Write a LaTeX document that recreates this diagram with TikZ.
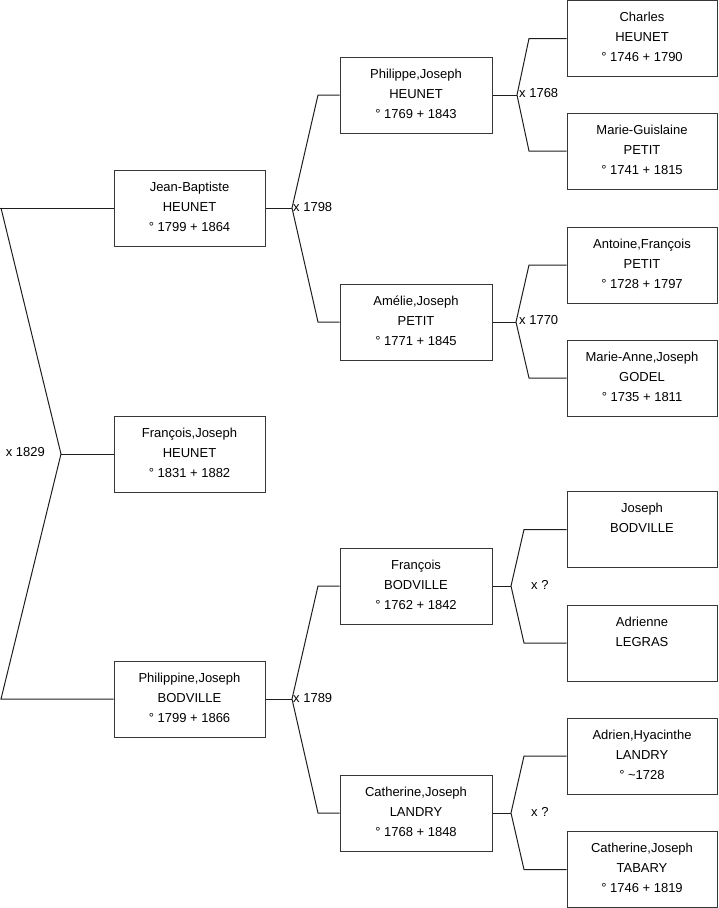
\documentclass[tikz,border=0pt]{standalone}
\usepackage{fontspec}
\setmainfont{Liberation Sans}
\definecolor{edge}{RGB}{30,30,30}
\definecolor{boxline}{RGB}{55,55,55}
\newcommand{\pbox}[1]{\parbox[c][62pt][t]{146pt}{\centering\strut #1}}
\begin{document}
\begin{tikzpicture}[x=1pt,y=-1pt,
  person/.style={draw=boxline,line width=1pt,inner sep=0pt,minimum height=76pt,
    font=\fontsize{13}{20}\selectfont},
  g1/.style={person,minimum width=151pt},
  g2/.style={person,minimum width=152pt},
  g3/.style={person,minimum width=150pt},
  link/.style={draw=edge,line width=1pt},
  mlabel/.style={inner sep=0pt,font=\fontsize{13}{15}\selectfont}]
\useasboundingbox (0,0) rectangle (719,908);
% generation 1
\node[g1] (jb) at (189.5,208) {\pbox{Jean-Baptiste\\HEUNET\\° 1799 + 1864}};
\node[g1] (fj) at (189.5,454) {\pbox{François,Joseph\\HEUNET\\° 1831 + 1882}};
\node[g1] (pb) at (189.5,699) {\pbox{Philippine,Joseph\\BODVILLE\\° 1799 + 1866}};
% generation 2
\node[g2] (ph) at (416,95) {\pbox{Philippe,Joseph\\HEUNET\\° 1769 + 1843}};
\node[g2] (am) at (416,322) {\pbox{Amélie,Joseph\\PETIT\\° 1771 + 1845}};
\node[g2] (fb) at (416,586) {\pbox{François\\BODVILLE\\° 1762 + 1842}};
\node[g2] (cl) at (416,813) {\pbox{Catherine,Joseph\\LANDRY\\° 1768 + 1848}};
% generation 3
\node[g3] (ch) at (642,38.5) {\pbox{Charles\\HEUNET\\° 1746 + 1790}};
\node[g3] (mg) at (642,151) {\pbox{Marie-Guislaine\\PETIT\\° 1741 + 1815}};
\node[g3] (af) at (642,265) {\pbox{Antoine,François\\PETIT\\° 1728 + 1797}};
\node[g3] (ma) at (642,378) {\pbox{Marie-Anne,Joseph\\GODEL\\° 1735 + 1811}};
\node[g3] (jo) at (642,529.5) {\pbox{Joseph\\BODVILLE}};
\node[g3] (ad) at (642,643) {\pbox{Adrienne\\LEGRAS}};
\node[g3] (ah) at (642,756) {\pbox{Adrien,Hyacinthe\\LANDRY\\° \textasciitilde 1728}};
\node[g3] (ct) at (642,869.5) {\pbox{Catherine,Joseph\\TABARY\\° 1746 + 1819}};
% root bracket
\coordinate (r0) at (0,208);
\coordinate (r1) at (1,208);
\coordinate (rv) at (61,454);
\coordinate (r2) at (1,699);
\draw[link] (r0) -- (jb.west);
\draw[link] (r1) -- (rv) -- (r2) -- (pb.west);
\draw[link] (rv) -- (fj.west);
\node[mlabel,anchor=east] (m0) at (45,452) {x 1829};
% JB parents
\coordinate (v1) at (292,208);
\coordinate (v1a) at (318,95);
\coordinate (v1b) at (318,322);
\draw[link] (jb.east) -- (v1);
\draw[link] (ph.west) -- (v1a) -- (v1) -- (v1b) -- (am.west);
\node[mlabel,anchor=west] (m1) at (293,207) {x 1798};
% Philippine parents
\coordinate (v2) at (292,699);
\coordinate (v2a) at (318,586);
\coordinate (v2b) at (318,813);
\draw[link] (pb.east) -- (v2);
\draw[link] (fb.west) -- (v2a) -- (v2) -- (v2b) -- (cl.west);
\node[mlabel,anchor=west] (m2) at (293,698) {x 1789};
% Philippe parents
\coordinate (v3) at (517,95);
\coordinate (v3a) at (529,38.5);
\coordinate (v3b) at (529,151);
\draw[link] (ph.east) -- (v3);
\draw[link] (ch.west) -- (v3a) -- (v3) -- (v3b) -- (mg.west);
\node[mlabel,anchor=west] (m3) at (519,93) {x 1768};
% Amelie parents
\coordinate (v4) at (516,322);
\coordinate (v4a) at (529,265);
\coordinate (v4b) at (529,378);
\draw[link] (am.east) -- (v4);
\draw[link] (af.west) -- (v4a) -- (v4) -- (v4b) -- (ma.west);
\node[mlabel,anchor=west] (m4) at (519,320) {x 1770};
% Francois parents
\coordinate (v5) at (511,586);
\coordinate (v5a) at (524,529.5);
\coordinate (v5b) at (524,643);
\draw[link] (fb.east) -- (v5);
\draw[link] (jo.west) -- (v5a) -- (v5) -- (v5b) -- (ad.west);
\node[mlabel,anchor=west] (m5) at (531,585) {x ?};
% Catherine parents
\coordinate (v6) at (511,813);
\coordinate (v6a) at (524,756);
\coordinate (v6b) at (524,869.5);
\draw[link] (cl.east) -- (v6);
\draw[link] (ah.west) -- (v6a) -- (v6) -- (v6b) -- (ct.west);
\node[mlabel,anchor=west] (m6) at (531,812) {x ?};
\end{tikzpicture}
\end{document}
